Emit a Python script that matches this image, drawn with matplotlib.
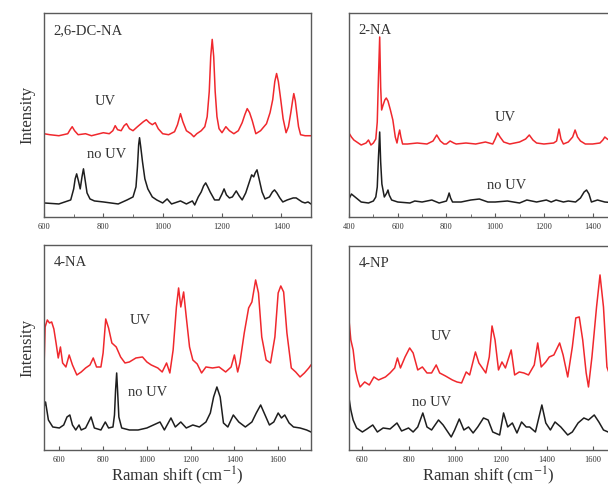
import matplotlib
matplotlib.use("Agg")
import matplotlib.pyplot as plt
from matplotlib.ticker import MultipleLocator

plt.rcParams['font.family'] = ['Liberation Serif', 'DejaVu Serif']
plt.rcParams['mathtext.fontset'] = 'stix'

# ---- 2,6-DC-NA spectra (intensity in arbitrary units) ----
dcna_uv_x = [600, 620, 650, 680, 688, 695, 703, 715, 740, 760,
             800, 820, 832, 840, 848, 860, 870, 878, 888, 900,
             915, 935, 945, 955, 965, 975, 985, 1000, 1020, 1040,
             1050, 1060, 1068, 1080, 1095, 1105, 1115, 1130, 1142, 1150,
             1157, 1162, 1167, 1172, 1177, 1183, 1190, 1200, 1213, 1225,
             1240, 1255, 1268, 1277, 1285, 1293, 1302, 1314, 1330, 1350,
             1362, 1371, 1378, 1384, 1390, 1398, 1406, 1416, 1424, 1432,
             1438, 1442, 1447, 1452, 1458, 1465, 1480, 1500]
dcna_uv = [83, 82, 81, 83, 87, 90, 86, 82, 83, 81,
           84, 83, 86, 91, 87, 86, 91, 93, 88, 86,
           90, 95, 97, 94, 92, 94, 88, 83, 82, 85,
           92, 103, 95, 86, 83, 80, 83, 86, 90, 100,
           125, 160, 177, 160, 125, 100, 88, 84, 90, 86,
           83, 86, 94, 102, 108, 104, 96, 83, 86, 93,
           104, 117, 135, 143, 135, 117, 98, 84, 90, 104,
           116, 123, 116, 104, 90, 82, 81, 81]
dcna_nouv_x = [600, 650, 690, 700, 705, 710, 716, 722, 728, 733,
               738, 745, 755, 770, 800, 850, 880, 900, 910, 915,
               919, 922, 926, 932, 940, 950, 965, 980, 1000, 1015,
               1030, 1060, 1080, 1100, 1108, 1120, 1130, 1138, 1145, 1152,
               1160, 1175, 1190, 1200, 1207, 1215, 1225, 1235, 1248, 1258,
               1268, 1280, 1290, 1300, 1307, 1312, 1318, 1325, 1335, 1345,
               1360, 1370, 1377, 1385, 1395, 1405, 1420, 1440, 1450, 1460,
               1470, 1480, 1490, 1500]
dcna_nouv = [14, 13, 17, 28, 38, 43, 36, 28, 40, 48,
             38, 24, 18, 16, 15, 13, 17, 20, 30, 50,
             72, 79, 70, 55, 38, 28, 20, 17, 14, 18,
             13, 16, 13, 16, 12, 20, 25, 31, 34, 30,
             25, 17, 17, 23, 28, 22, 19, 20, 26, 21,
             17, 24, 33, 42, 40, 44, 47, 38, 25, 18,
             20, 25, 27, 24, 19, 15, 17, 19, 19, 17,
             15, 14, 15, 13]

# ---- 2-NA spectra ----
na2_uv_x = [400, 410, 420, 450, 470, 480, 490, 500, 510, 516,
            521, 526, 530, 534, 540, 547, 553, 560, 570, 580,
            590, 597, 603, 608, 613, 620, 640, 680, 720, 745,
            760, 775, 790, 800, 815, 830, 840, 880, 920, 960,
            990, 1000, 1010, 1020, 1035, 1060, 1100, 1125, 1140, 1155,
            1170, 1200, 1240, 1252, 1262, 1270, 1280, 1300, 1318, 1328,
            1338, 1350, 1370, 1400, 1430, 1442, 1450, 1460, 1475, 1500]
na2_uv = [84, 80, 77, 72, 74, 77, 72, 74, 78, 95,
          140, 180, 130, 107, 112, 117, 119, 116, 107, 97,
          80, 74, 82, 87, 80, 73, 73, 74, 73, 76,
          82, 76, 73, 73, 76, 74, 73, 74, 73, 75,
          73, 78, 84, 80, 75, 73, 75, 78, 82, 77,
          74, 73, 74, 76, 88, 78, 73, 75, 80, 87,
          80, 76, 73, 73, 74, 77, 80, 78, 76, 75]
na2_nouv_x = [400, 410, 425, 450, 480, 500, 510, 516, 521, 526,
              530, 535, 545, 555, 560, 565, 575, 600, 650, 670,
              700, 740, 770, 800, 806, 811, 817, 825, 860, 900,
              935, 970, 1000, 1050, 1100, 1130, 1170, 1210, 1230, 1250,
              1280, 1300, 1330, 1350, 1365, 1375, 1385, 1395, 1420, 1450,
              1500]
na2_nouv = [18, 23, 20, 15, 14, 16, 20, 30, 60, 85,
            55, 33, 20, 24, 27, 22, 17, 15, 14, 16,
            15, 17, 14, 16, 20, 24, 19, 15, 15, 17,
            18, 15, 15, 16, 14, 17, 15, 17, 15, 17,
            15, 16, 15, 19, 25, 27, 23, 15, 17, 15,
            14]

# ---- 4-NA spectra ----
na4_uv_x = [530, 535, 545, 555, 565, 575, 585, 595, 605, 615, 630, 645, 660, 680, 700, 720,
            740, 755, 770, 790, 800, 812, 825, 840, 860, 880, 900, 920, 950, 980, 1000, 1020,
            1050, 1070, 1090, 1105, 1120, 1135, 1145, 1155, 1168, 1180, 1195, 1210, 1230, 1250,
            1270, 1300, 1330, 1360, 1385, 1400, 1415, 1425, 1445, 1465, 1480, 1497, 1510, 1525,
            1545, 1565, 1585, 1600, 1612, 1625, 1640, 1660, 1680, 1700, 1720, 1740, 1750]
na4_uv = [83, 123, 130, 127, 128, 121, 107, 92, 103, 87, 83, 95, 85, 75, 78, 82,
          85, 92, 83, 83, 97, 131, 122, 107, 103, 93, 87, 88, 92, 93, 88, 85,
          82, 78, 87, 77, 100, 143, 162, 143, 158, 133, 103, 90, 86, 77,
          83, 82, 83, 78, 83, 95, 78, 87, 117, 142, 148, 170, 157, 113,
          90, 87, 113, 157, 164, 158, 117, 82, 78, 73, 77, 82, 85]
na4_nouv_x = [530, 537, 550, 570, 600, 620, 635, 648, 660, 675, 690, 700, 720, 745, 760, 790,
              810, 825, 845, 852, 857, 862, 866, 872, 885, 920, 960, 1000, 1030, 1060, 1080,
              1110, 1130, 1155, 1180, 1210, 1240, 1270, 1290, 1305, 1320, 1335, 1350, 1370,
              1395, 1420, 1450, 1480, 1500, 1520, 1540, 1560, 1580, 1600, 1615, 1630, 1650,
              1670, 1700, 1730, 1750]
na4_nouv = [43, 48, 30, 23, 22, 25, 33, 35, 25, 20, 25, 20, 22, 33, 22, 20,
            28, 22, 23, 35, 60, 77, 60, 33, 22, 20, 20, 22, 25, 28, 20,
            32, 23, 28, 22, 25, 23, 28, 37, 53, 63, 53, 27, 23,
            35, 28, 23, 28, 37, 45, 35, 25, 28, 37, 32, 35, 27,
            23, 22, 20, 18]

# ---- 4-NP spectra ----
np4_uv_x = [542, 550, 560, 570, 580, 590, 610, 630, 650, 670, 700, 720, 740, 752, 765, 785,
            805, 820, 840, 860, 880, 900, 920, 935, 960, 990, 1010, 1030, 1050, 1065, 1090,
            1105, 1120, 1135, 1150, 1162, 1175, 1190, 1205, 1220, 1245, 1260, 1280, 1300, 1320,
            1345, 1360, 1375, 1395, 1410, 1430, 1455, 1470, 1490, 1510, 1525, 1540, 1555, 1570,
            1580, 1595, 1615, 1630, 1645, 1660, 1680, 1750]
np4_uv = [130, 110, 100, 80, 70, 63, 68, 65, 73, 70, 73, 77, 82, 92, 82, 93,
          102, 97, 80, 83, 77, 77, 85, 77, 74, 70, 68, 67, 78, 75, 98,
          87, 82, 77, 93, 124, 110, 80, 88, 82, 100, 75, 78, 77, 75,
          85, 107, 83, 88, 93, 95, 107, 95, 73, 103, 132, 133, 110, 77,
          63, 93, 143, 175, 143, 83, 70, 70]
np4_nouv_x = [542, 550, 560, 575, 600, 620, 645, 665, 690, 720, 750, 770, 800, 820, 840, 862,
              880, 900, 930, 950, 985, 1000, 1020, 1040, 1060, 1080, 1100, 1125, 1145, 1165,
              1195, 1212, 1230, 1250, 1270, 1290, 1310, 1325, 1350, 1378, 1395, 1415, 1435,
              1460, 1490, 1510, 1535, 1560, 1580, 1605, 1625, 1645, 1665, 1750]
np4_nouv = [52, 40, 30, 22, 18, 21, 25, 18, 22, 21, 27, 19, 22, 18, 23, 37,
            23, 20, 30, 25, 13, 20, 31, 20, 23, 17, 23, 32, 30, 18,
            15, 37, 23, 27, 17, 28, 23, 23, 18, 45, 27, 20, 28,
            23, 15, 18, 27, 32, 30, 35, 28, 20, 18, 17]

panel_names = ['2,6-DC-NA', '2-NA', '4-NA', '4-NP']

RED = '#f0282d'
BLACK = '#1e1e1e'
SPINE = '#5a5a5a'
TEXT = '#333333'

fig = plt.figure(figsize=(6.08, 4.87), dpi=100)

# [left, bottom, width, height], xlim, ylim-top, UV/noUV label spots, axis labels
panels = [
    dict(rect=[0.0724, 0.5544, 0.4391, 0.4189], xlim=(600, 1500), ytop=203.3,
         uv=(dcna_uv_x, dcna_uv), nouv=(dcna_nouv_x, dcna_nouv),
         uv_lab=(805, 115), nouv_lab=(812, 62), ylabel=True, xlabel=False),
    dict(rect=[0.574, 0.5544, 0.4408, 0.4189], xlim=(400, 1500), ytop=204,
         uv=(na2_uv_x, na2_uv), nouv=(na2_nouv_x, na2_nouv),
         uv_lab=(1040, 100), nouv_lab=(1049, 32), ylabel=False, xlabel=False),
    dict(rect=[0.0724, 0.076, 0.4391, 0.421], xlim=(530, 1750), ytop=205,
         uv=(na4_uv_x, na4_uv), nouv=(na4_nouv_x, na4_nouv),
         uv_lab=(968, 129), nouv_lab=(1003, 57), ylabel=True, xlabel=True),
    dict(rect=[0.574, 0.076, 0.4584, 0.419], xlim=(542, 1750), ytop=204,
         uv=(np4_uv_x, np4_uv), nouv=(np4_nouv_x, np4_nouv),
         uv_lab=(940, 113), nouv_lab=(899, 47), ylabel=False, xlabel=True),
]

for name, p in zip(panel_names, panels):
    ax = fig.add_axes(p['rect'])
    ax.plot(*p['uv'], color=RED, lw=1.1)
    ax.plot(*p['nouv'], color=BLACK, lw=1.1)
    ax.set_xlim(*p['xlim'])
    ax.set_ylim(0, p['ytop'])
    ax.set_yticks([])
    ax.xaxis.set_major_locator(MultipleLocator(200))
    ax.xaxis.set_minor_locator(MultipleLocator(100))
    ax.tick_params(axis='x', which='both', direction='in', colors=SPINE,
                   labelcolor=TEXT, labelsize=6, pad=4)
    ax.tick_params(axis='x', which='major', length=3, width=0.8)
    ax.tick_params(axis='x', which='minor', length=2, width=0.6)
    for s in ax.spines.values():
        s.set_color(SPINE)
        s.set_linewidth(1.0)
    ax.text(0.035, 0.945, name, transform=ax.transAxes, fontsize=10.5,
            color=TEXT, va='top', ha='left')
    ax.text(*p['uv_lab'], 'UV', fontsize=10.5, color=TEXT, ha='center', va='center')
    ax.text(*p['nouv_lab'], 'no UV', fontsize=10.5, color=TEXT, ha='center', va='center')
    if p['ylabel']:
        ax.set_ylabel('Intensity', fontsize=12, color=TEXT, labelpad=6)
    if p['xlabel']:
        ax.set_xlabel(r'Raman shift (cm$^{\mathrm{-1}}$)', fontsize=12, color=TEXT, labelpad=1)

fig.savefig('out.png', dpi=100)
